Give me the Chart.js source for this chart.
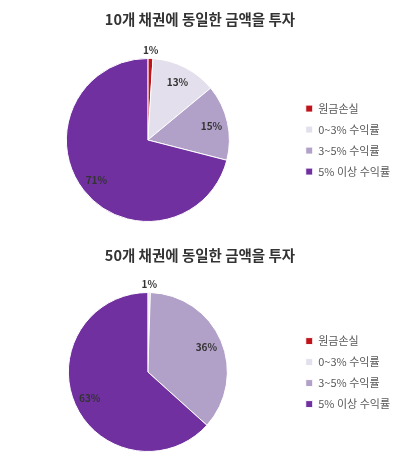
<!DOCTYPE html>
<html lang="ko">
<head>
    <meta charset="UTF-8">
    <title>채권 분산 투자 수익률</title>
    <style>
        body { margin: 0; background: #fff; }
        .box { position: relative; width: 400px; height: 231px; }
    </style>
</head>
<body>
    <div class="box"><canvas id="pie10"></canvas></div>
    <div class="box"><canvas id="pie50"></canvas></div>
    <script src="https://cdn.jsdelivr.net/npm/chart.js"></script>
    <script>
        // categories and values (percent)
        const categories = ['원금손실', '0~3% 수익률', '3~5% 수익률', '5% 이상 수익률'];
        const values10 = [1, 13, 15, 71];
        const values50 = [0, 0.5, 36, 63];
        const title10 = '10개 채권에 동일한 금액을 투자';
        const title50 = '50개 채권에 동일한 금액을 투자';

        const sliceColors = ['#c0141c', '#e4dfec', '#b1a0c7', '#7030a0'];
        const fontFamily = '"Noto Sans CJK KR", "Noto Sans", sans-serif';

        // percent labels on the slices, small ones pushed outside
        const sliceLabels = {
            id: 'sliceLabels',
            afterDatasetsDraw(chart) {
                const ctx = chart.ctx;
                const data = chart.data.datasets[0].data;
                chart.getDatasetMeta(0).data.forEach((arc, i) => {
                    if (!data[i]) return;
                    const p = arc.getProps(['x', 'y', 'startAngle', 'endAngle', 'outerRadius'], true);
                    const mid = (p.startAngle + p.endAngle) / 2;
                    const r = p.outerRadius * (data[i] < 3 ? 1.1 : 0.8);
                    ctx.save();
                    ctx.font = 'bold 10px ' + fontFamily;
                    ctx.fillStyle = '#333333';
                    ctx.textAlign = 'center';
                    ctx.textBaseline = 'middle';
                    ctx.fillText(Math.round(data[i]) + '%', p.x + Math.cos(mid) * r, p.y + Math.sin(mid) * r);
                    ctx.restore();
                });
            }
        };

        function makePie(id, values, title, pad) {
            return new Chart(document.getElementById(id), {
                type: 'pie',
                data: {
                    labels: categories,
                    datasets: [{
                        data: values,
                        backgroundColor: sliceColors,
                        borderColor: '#ffffff',
                        borderWidth: 1
                    }]
                },
                options: {
                    responsive: true,
                    maintainAspectRatio: false,
                    animation: false,
                    layout: { padding: { top: 0, bottom: pad.bottom, left: 0, right: 0 } },
                    plugins: {
                        title: {
                            display: true,
                            text: title,
                            color: '#333333',
                            font: { family: fontFamily, size: 14.5, weight: 'bold' },
                            padding: { top: pad.titleTop, bottom: pad.titleBottom }
                        },
                        legend: {
                            position: 'right',
                            // empty title only pushes the items down to the pie's middle
                            title: {
                                display: true,
                                text: ' ',
                                font: { size: 1 },
                                padding: { top: pad.legendTop, bottom: 0 }
                            },
                            labels: {
                                boxWidth: 7,
                                boxHeight: 7,
                                padding: 10,
                                color: '#595959',
                                font: { family: fontFamily, size: 11 }
                            }
                        },
                        tooltip: { enabled: false }
                    }
                },
                plugins: [sliceLabels]
            });
        }

        makePie('pie10', values10, title10, { titleTop: 11, titleBottom: 29.6, bottom: 9, legendTop: 57 });
        makePie('pie50', values50, title50, { titleTop: 15.3, titleBottom: 28.3, bottom: 10, legendTop: 61 });
    </script>
</body>
</html>
